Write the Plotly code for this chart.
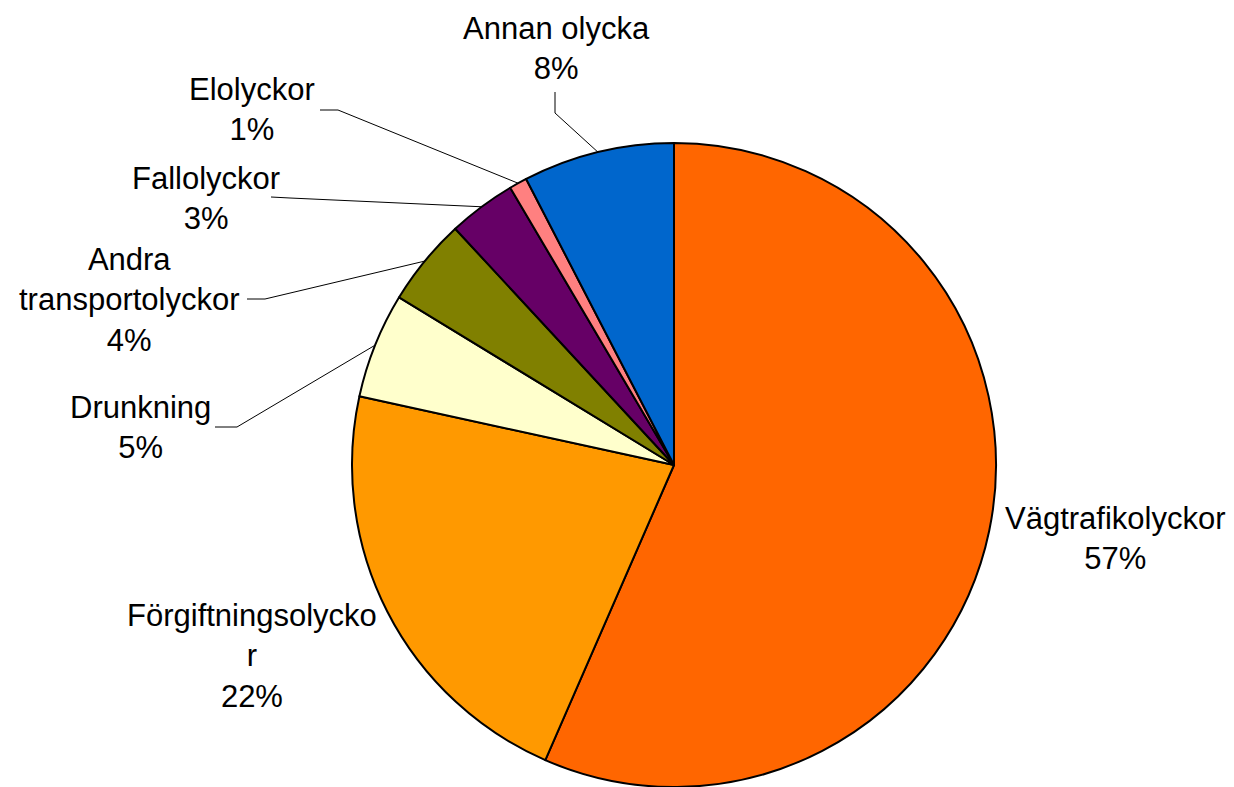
import math
import plotly.graph_objects as go

# ---- data ----
categories = ["Vägtrafikolyckor", "Förgiftningsolyckor", "Drunkning",
              "Andra transportolyckor", "Fallolyckor", "Elolyckor", "Annan olycka"]
display_names = ["Vägtrafikolyckor", "Förgiftningsolycko<br>r", "Drunkning",
                 "Andra<br>transportolyckor", "Fallolyckor", "Elolyckor", "Annan olycka"]
values = [56.6, 21.9, 5.3, 4.4, 3.4, 0.9, 7.6]
colors = ["#FF6600", "#FF9900", "#FFFFCC", "#808000", "#660066", "#FF8080", "#0066CC"]

# ---- layout constants (screen pixels) ----
OFF = 8                      # default body margin of the html page
W, H = 1234 - OFF, 787 - OFF
CX, CY, R = 674, 465, 322    # pie centre (from top) and radius, screen px
# label centre positions
label_pos = [(1115, 538), (252, 656), (140, 427), (129, 300),
             (206, 199), (252, 110), (556, 49)]
# leader-line elbows (start, elbow) or None
leaders = [None, None,
           [(215, 427), (237, 427)],
           [(247, 299), (265, 299)],
           [(271, 197), (290, 198)],
           [(320, 110), (338, 110)],
           [(555, 92), (555, 113)]]

FONT = "Liberation Sans, Arial, sans-serif"


def px(x):
    return (x - OFF) / W


def py(y):
    return 1 - (y - OFF) / H


fig = go.Figure(go.Pie(
    labels=categories, values=values, sort=False, direction="clockwise",
    rotation=0, textinfo="none", hoverinfo="skip",
    marker=dict(colors=colors, line=dict(color="black", width=2)),
    domain=dict(x=[px(CX - R), px(CX + R)], y=[max(0, py(CY + R)), py(CY - R)]),
))

total = sum(values)
annotations = []
shapes = []
cum = 0.0
for name, v, (lx, ly), ld in zip(display_names, values, label_pos, leaders):
    mid = (cum + v / 2) / total * 2 * math.pi
    cum += v
    annotations.append(dict(
        x=px(lx), y=py(ly), xref="paper", yref="paper",
        text=f"{name}<br>{v / total:.0%}", showarrow=False,
        xanchor="center", yanchor="middle", align="center",
        font=dict(family=FONT, size=31, color="black")))
    if ld:
        ex = CX + R * math.sin(mid)
        ey = CY - R * math.cos(mid)
        (x0, y0), (x1, y1) = ld
        path = (f"M {px(x0)} {py(y0)} L {px(x1)} {py(y1)} "
                f"L {px(ex)} {py(ey)}")
        shapes.append(dict(type="path", xref="paper", yref="paper", path=path,
                           line=dict(color="black", width=1)))

fig.update_layout(
    width=W, height=H, margin=dict(l=0, r=0, t=0, b=0),
    paper_bgcolor="white", plot_bgcolor="white", showlegend=False,
    annotations=annotations, shapes=shapes,
)

fig.write_html("out.html")
